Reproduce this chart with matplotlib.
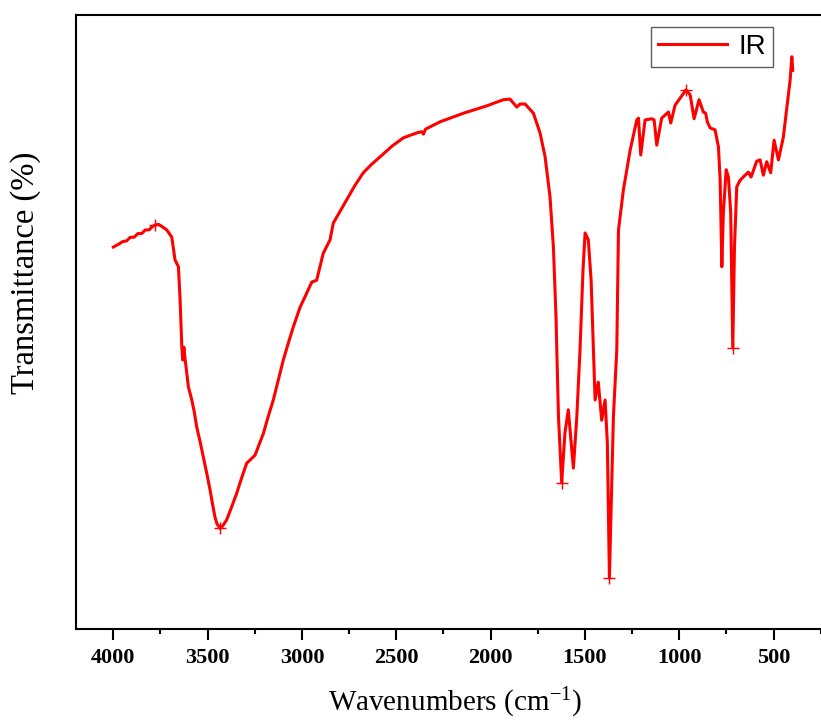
import matplotlib
matplotlib.use("Agg")
import matplotlib.pyplot as plt
from matplotlib.ticker import MultipleLocator

# IR spectrum (wavenumber in cm-1, transmittance in arbitrary %)
wavenumber = [
    4000, 3970, 3950, 3930, 3910, 3890, 3870, 3850, 3830, 3810, 3795, 3779,
    3760, 3740, 3717, 3690, 3673, 3655, 3646, 3637, 3632, 3626, 3620, 3602,
    3584, 3570, 3558, 3540, 3523, 3505, 3487, 3475, 3461, 3450, 3434, 3420,
    3399, 3375, 3346, 3320, 3293, 3249, 3204, 3180, 3152, 3125, 3099, 3072,
    3046, 3010, 2984, 2948, 2922, 2887, 2851, 2834, 2763, 2720, 2675, 2630,
    2586, 2520, 2462, 2391, 2365, 2356, 2345, 2268, 2144, 2020, 1932, 1897,
    1861, 1844, 1817, 1773, 1738, 1711, 1685, 1667, 1653, 1649, 1640, 1623,
    1606, 1588, 1561, 1543, 1526, 1510, 1499, 1482, 1467, 1455, 1446, 1429,
    1411, 1393, 1381, 1370, 1360, 1349, 1331, 1322, 1296, 1260, 1225, 1216,
    1204, 1181, 1146, 1133, 1119, 1093, 1057, 1045, 1022, 964, 942, 921,
    895, 872, 860, 851, 836, 810, 792, 783, 774, 766, 751, 739,
    727, 716, 707, 695, 677, 651, 633, 619, 589, 571, 554, 536,
    515, 497, 474, 448, 412, 403, 398,
]
transmittance = [
    62.2, 62.7, 63.1, 63.2, 63.8, 63.8, 64.4, 64.4, 65.0, 65.0, 65.5, 65.8,
    65.9, 65.5, 65.0, 63.8, 60.1, 59.0, 53.6, 45.9, 43.8, 45.9, 44.1, 39.4,
    37.3, 35.2, 32.9, 30.5, 28.0, 25.4, 22.6, 20.5, 18.2, 17.1, 16.4, 16.8,
    17.8, 19.7, 22.1, 24.6, 27.0, 28.3, 31.9, 34.5, 37.3, 40.6, 43.8, 46.6,
    49.2, 52.4, 54.1, 56.5, 56.8, 61.2, 63.4, 66.1, 69.9, 72.2, 74.3, 75.7,
    76.9, 78.7, 80.0, 80.8, 81.0, 80.6, 81.4, 82.6, 84.0, 85.2, 86.2, 86.3,
    85.0, 85.5, 85.5, 84.0, 80.8, 76.9, 70.4, 62.2, 50.7, 45.4, 34.5, 23.8,
    31.9, 35.7, 26.2, 34.5, 45.4, 58.5, 64.5, 63.4, 56.8, 45.9, 37.3, 40.2,
    34.0, 37.3, 30.3, 8.3, 21.0, 34.5, 45.4, 65.0, 71.5, 78.0, 82.9, 83.2,
    77.2, 82.9, 83.1, 82.9, 78.8, 83.2, 84.2, 82.4, 85.3, 87.8, 87.0, 83.1,
    86.2, 84.2, 84.0, 82.6, 81.6, 81.3, 78.5, 73.1, 59.0, 67.8, 74.8, 73.6,
    67.8, 45.8, 62.2, 72.0, 73.1, 73.9, 74.4, 73.6, 76.2, 76.4, 73.9, 76.1,
    74.3, 79.6, 76.4, 80.1, 89.4, 93.2, 91.0,
]

# labelled peaks (drawn with '+')
peak_wn = [3779, 3434, 1623, 1370, 964, 716]
peak_t = [65.8, 16.4, 23.8, 8.3, 87.8, 45.8]

xticks = [4000, 3500, 3000, 2500, 2000, 1500, 1000, 500]
xtick_labels = [str(t) for t in xticks]

plt.rcParams["mathtext.default"] = "regular"

fig = plt.figure(figsize=(8.21, 7.27), dpi=100)
ax = fig.add_axes([0.0921, 0.1348, 0.919, 0.8446])

ax.plot(wavenumber, transmittance, color="#ff0000", linewidth=2.2, label="IR")
ax.plot(peak_wn, peak_t, linestyle="none", marker="+", color="#ff0000",
        markersize=9, markeredgewidth=1.0)

ax.set_xlim(4200, 200)
ax.set_ylim(0, 100)
ax.set_xticks(xticks, labels=xtick_labels, family="Liberation Serif",
              fontweight="bold", fontsize=16)
ax.xaxis.set_minor_locator(MultipleLocator(250))
ax.set_yticks([])

for side in ["left", "right", "top", "bottom"]:
    ax.spines[side].set_linewidth(1.5)

ax.tick_params(axis="x", which="major", direction="out", length=8, width=1.5, pad=6)
ax.tick_params(axis="x", which="minor", direction="out", length=3.8, width=1.5)

ax.set_xlabel("Wavenumbers (cm$^{-1}$)", family="Liberation Serif", fontsize=21)
ax.set_ylabel("Transmittance (%)", family="Liberation Serif", fontsize=23.5)
ax.xaxis.set_label_coords(0.503, -0.093)
ax.yaxis.set_label_coords(-0.046, 0.58)

leg = ax.legend(loc="upper right", bbox_to_anchor=(773 / 821, 1 - 27 / 727),
                bbox_transform=fig.transFigure, borderaxespad=0,
                prop={"family": "Liberation Sans", "size": 20},
                handlelength=2.5, handletextpad=0.4, borderpad=0.25,
                fancybox=False, frameon=True)
leg.get_frame().set_edgecolor("#333333")
leg.get_frame().set_linewidth(1.0)

fig.savefig("out.png", dpi=100)
